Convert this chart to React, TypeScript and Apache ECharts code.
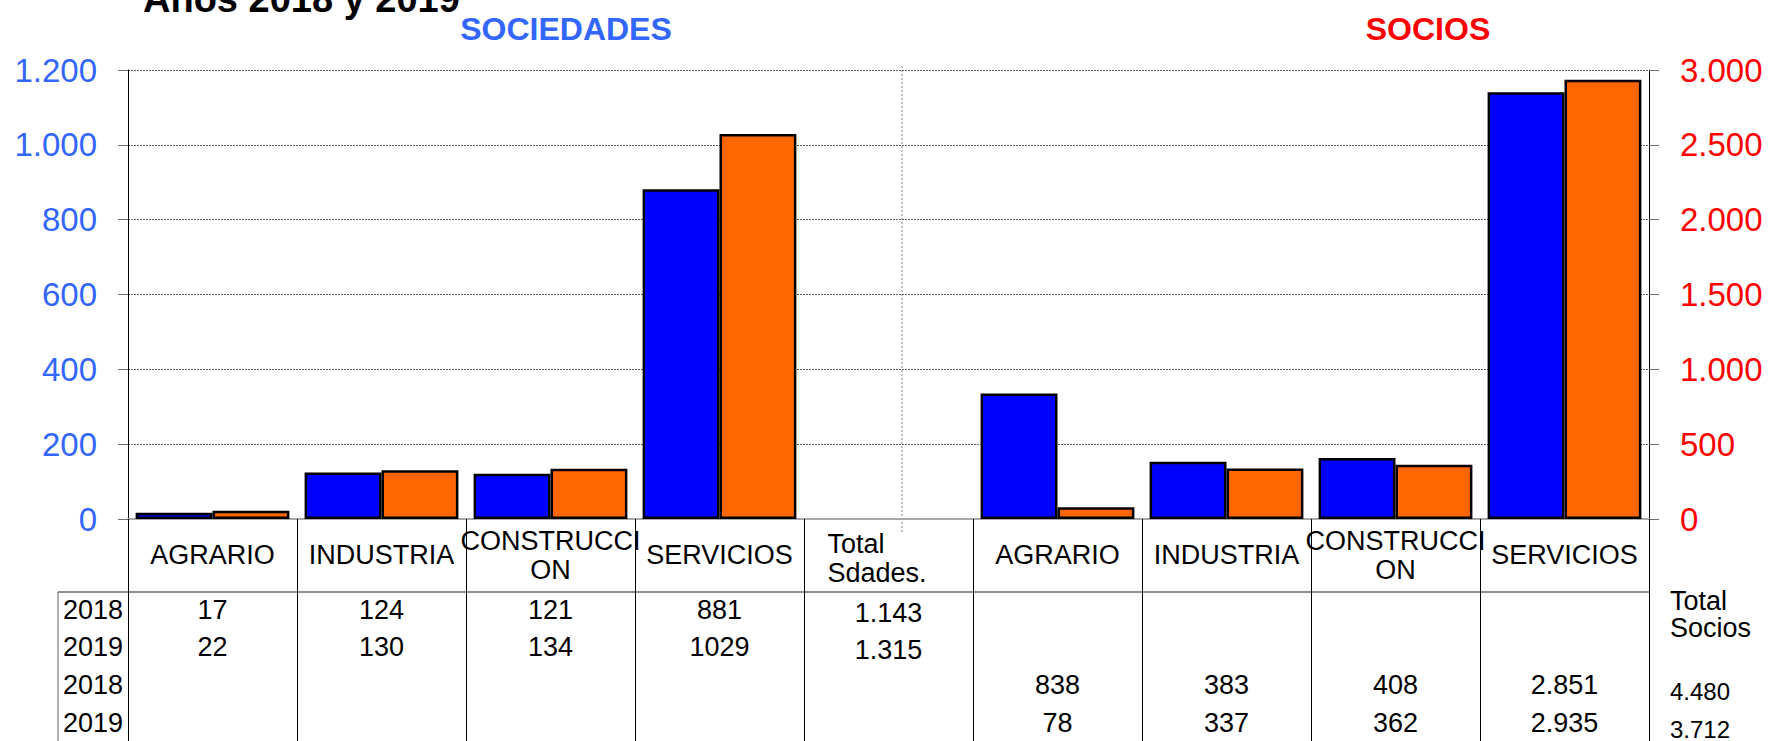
import React, { useEffect, useRef } from "react";
import * as echarts from "echarts";

const FONT = "'Liberation Sans', Arial, sans-serif";

const axisLabels = [
  "AGRARIO",
  "INDUSTRIA",
  "CONSTRUCCI\nON",
  "SERVICIOS",
  "Total\nSdades.",
  "AGRARIO",
  "INDUSTRIA",
  "CONSTRUCCI\nON",
  "SERVICIOS",
];
const years = ["2018", "2019"];
const sociedades2018 = [17, 124, 121, 881];
const sociedades2019 = [22, 130, 134, 1029];
const totalSociedades = [1143, 1315];
const socios2018 = [838, 383, 408, 2851];
const socios2019 = [78, 337, 362, 2935];
const totalSocios = [4480, 3712];

const leftTicks = { min: 0, max: 1200, interval: 200 };
const rightTicks = { min: 0, max: 3000, interval: 500 };

const dot = (n: number) => String(n).replace(/\B(?=(\d{3})+(?!\d))/g, ".");

export default function App() {
  const ref = useRef<HTMLDivElement>(null);
  useEffect(() => {
    if (!ref.current) return;
    const chart = echarts.init(ref.current, null, { renderer: "svg" });

    const W = 1771;
    const H = 741;
    const gridLeft = 128;
    const gridRight = 1649;
    const gridTop = 70;
    const gridBottom = 519;
    const nCat = axisLabels.length;
    const catW = (gridRight - gridLeft) / nCat;
    const colCenter = (k: number) => gridLeft + catW * (k + 0.5);
    const tableTop = 592;
    const rowY = [610, 647, 685, 723];

    const pad = (arr: number[], before: number, after: number) => [
      ...Array(before).fill(null),
      ...arr,
      ...Array(after).fill(null),
    ];

    const txt = (text: string, x: number, y: number, opts: any = {}) => ({
      type: "text",
      x,
      y,
      silent: true,
      style: {
        text,
        fill: opts.fill || "#000",
        fontSize: opts.fontSize || 27,
        fontFamily: FONT,
        fontWeight: opts.fontWeight || "normal",
        align: opts.align || "center",
        verticalAlign: "middle",
      },
    });
    const ln = (x1: number, y1: number, x2: number, y2: number, stroke = "#000", lineWidth = 1, lineDash?: number[]) => ({
      type: "line",
      silent: true,
      shape: { x1, y1, x2, y2 },
      style: { stroke, lineWidth, lineDash },
    });

    const graphics: any[] = [];
    // titles
    graphics.push(txt("Años 2018 y 2019", 143, -1, { fontSize: 38, fontWeight: "bold", align: "left" }));
    graphics.push(txt("SOCIEDADES", 566, 29, { fontSize: 32, fontWeight: "bold", fill: "#3366FF" }));
    graphics.push(txt("SOCIOS", 1428, 29, { fontSize: 32, fontWeight: "bold", fill: "#FF0000" }));
    // middle dotted separator
    graphics.push(ln(902, 66, 902, 532, "#808080", 1, [2, 2]));
    // table lines
    graphics.push(ln(58, tableTop, gridRight, tableTop, "#909090", 2));
    graphics.push(ln(58, tableTop, 58, H, "#606060", 1));
    for (let k = 0; k <= nCat; k++) {
      const x = Math.round(gridLeft + catW * k) + 0.5;
      graphics.push(ln(x, tableTop, x, H, "#000", 1));
    }
    // year labels
    [years[0], years[1], years[0], years[1]].forEach((y, i) =>
      graphics.push(txt(y, 63, rowY[i], { align: "left" }))
    );
    // sociedades rows
    [sociedades2018, sociedades2019].forEach((arr, r) => {
      arr.forEach((v, k) => graphics.push(txt(String(v), colCenter(k), rowY[r])));
      graphics.push(txt(dot(totalSociedades[r]), colCenter(4), rowY[r] + 3));
    });
    // socios rows
    [socios2018, socios2019].forEach((arr, r) => {
      arr.forEach((v, k) => graphics.push(txt(dot(v), colCenter(5 + k), rowY[r + 2])));
      graphics.push(txt(dot(totalSocios[r]), 1670, rowY[r + 2] + 6, { align: "left", fontSize: 24 }));
    });
    graphics.push(txt("Total\nSocios", 1670, 614, { align: "left" }));

    const barStyle = (color: string) => ({ color, borderColor: "#000", borderWidth: 2.5 });

    chart.setOption({
      animation: false,
      grid: {
        left: gridLeft,
        right: W - gridRight,
        top: gridTop,
        bottom: H - gridBottom,
        containLabel: false,
      },
      xAxis: [
        {
          type: "category",
          data: axisLabels.map((_, i) => "c" + i),
          boundaryGap: true,
          axisLine: { show: true, lineStyle: { color: "#A8A8A8", width: 2 } },
          axisTick: { show: true, inside: false, length: 73, alignWithLabel: false, lineStyle: { color: "#000", width: 1 } },
          axisLabel: {
            interval: 0,
            margin: 36,
            verticalAlign: "middle",
            color: "#000",
            fontSize: 27,
            fontFamily: FONT,
            lineHeight: 29,
            formatter: (_v: string, i: number) =>
              axisLabels[i] === "Total\nSdades." ? "{t|Total}\n{t|Sdades.}" : axisLabels[i],
            rich: {
              t: {
                width: 122,
                align: "left",
                fontSize: 27,
                fontFamily: FONT,
                lineHeight: 29,
                color: "#000",
                padding: [7, 0, 0, 0],
              },
            },
          },
          splitLine: { show: false },
        },
        {
          type: "category",
          data: axisLabels.map((_, i) => "c" + i),
          boundaryGap: true,
          show: false,
        },
      ],
      yAxis: [
        {
          type: "value",
          position: "left",
          ...leftTicks,
          axisLine: { show: true, lineStyle: { color: "#000", width: 1 } },
          axisTick: { show: true, inside: false, length: 10, lineStyle: { color: "#707070" } },
          axisLabel: {
            margin: 31,
            color: "#3366FF",
            fontSize: 33,
            fontFamily: FONT,
            formatter: (v: number) => dot(v),
          },
          splitLine: { show: true, lineStyle: { color: "#606060", type: [2, 1], width: 1 } },
        },
        {
          type: "value",
          position: "right",
          ...rightTicks,
          axisLine: { show: true, lineStyle: { color: "#000", width: 1 } },
          axisTick: { show: true, inside: false, length: 10, lineStyle: { color: "#707070" } },
          axisLabel: {
            margin: 31,
            color: "#FF0000",
            fontSize: 33,
            fontFamily: FONT,
            formatter: (v: number) => dot(v),
          },
          splitLine: { show: false },
        },
      ],
      series: [
        {
          name: "Sociedades 2018",
          type: "bar",
          xAxisIndex: 0,
          yAxisIndex: 0,
          data: pad(sociedades2018, 0, 5),
          barGap: "0%",
          barCategoryGap: "9%",
          itemStyle: barStyle("#0000FF"),
        },
        {
          name: "Sociedades 2019",
          type: "bar",
          xAxisIndex: 0,
          yAxisIndex: 0,
          data: pad(sociedades2019, 0, 5),
          barGap: "0%",
          barCategoryGap: "9%",
          itemStyle: barStyle("#FF6600"),
        },
        {
          name: "Socios 2018",
          type: "bar",
          xAxisIndex: 1,
          yAxisIndex: 1,
          data: pad(socios2018, 5, 0),
          barGap: "0%",
          barCategoryGap: "9%",
          itemStyle: barStyle("#0000FF"),
        },
        {
          name: "Socios 2019",
          type: "bar",
          xAxisIndex: 1,
          yAxisIndex: 1,
          data: pad(socios2019, 5, 0),
          barGap: "0%",
          barCategoryGap: "9%",
          itemStyle: barStyle("#FF6600"),
        },
      ],
      graphic: graphics,
    });

    return () => chart.dispose();
  }, []);

  return (
    <div
      ref={ref}
      style={{ position: "absolute", left: 0, top: 0, width: 1771, height: 741, background: "#fff" }}
    />
  );
}
